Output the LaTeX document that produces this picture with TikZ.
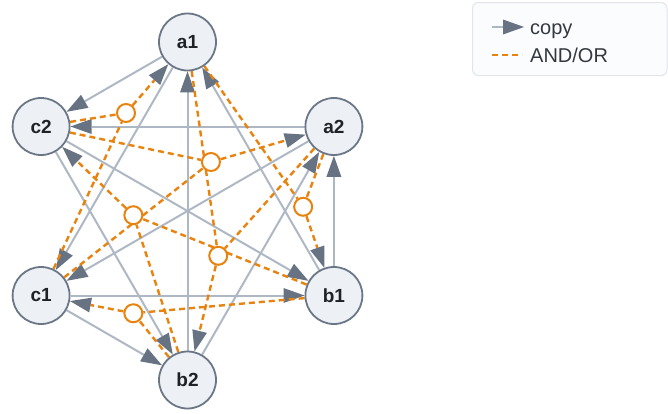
\documentclass[tikz,border=0pt]{standalone}
\usepackage{fontspec}
\setmainfont{Liberation Sans}
\usetikzlibrary{arrows.meta,calc}

\definecolor{edgegray}{HTML}{AEB8C4}
\definecolor{tipgray}{HTML}{677383}
\definecolor{nodefill}{HTML}{EDF1F6}
\definecolor{nodeline}{HTML}{6B7786}
\definecolor{andor}{HTML}{E8830F}
\definecolor{legline}{HTML}{E1E5EA}
\definecolor{legfill}{HTML}{FBFCFD}
\definecolor{labeltext}{HTML}{1F2328}
\definecolor{legtext}{HTML}{333840}

\pgfdeclarelayer{copylayer}
\pgfdeclarelayer{andorlayer}
\pgfsetlayers{copylayer,andorlayer,main}

\begin{document}
\begin{tikzpicture}[x=1pt,y=-1pt,
  state/.style={circle, draw=nodeline, line width=1.8pt, fill=nodefill,
    minimum size=57pt, inner sep=0pt,
    font=\bfseries\fontsize{19}{19}\selectfont, text=labeltext},
  hub/.style={circle, draw=andor, line width=2pt, fill=white,
    minimum size=18pt, inner sep=0pt},
  gtip/.style={-{Triangle[length=21pt,width=15pt,line width=0pt,color=tipgray]}},
  copyedge/.style={draw=edgegray, line width=2pt, gtip},
  andoredge/.style={draw=andor, line width=2.4pt, dash pattern=on 6pt off 4pt},
  andorarrow/.style={andoredge, gtip},
  legtxt/.style={anchor=base west, inner sep=0pt, text=legtext,
    font=\fontsize{20}{20}\selectfont},
]
\useasboundingbox (0,0) rectangle (668,413);

% legend
\draw[draw=legline, fill=legfill, line width=1pt, rounded corners=6pt]
  (472.5,2.5) rectangle (667,75.5);
\coordinate (lcs) at (492,27);
\coordinate (lce) at (524,27);
\coordinate (las) at (492,55);
\coordinate (lae) at (522,55);
\draw[copyedge] (lcs) -- (lce);
\draw[andoredge] (las) -- (lae);
\node[legtxt] (lcopy) at (530,34) {copy};
\node[legtxt] (landor) at (530,62) {AND/OR};

% state nodes on a hexagon
\node[state] (a1) at (187.5,42)    {a1};
\node[state] (a2) at (333.9,126.5) {a2};
\node[state] (b1) at (333.9,295.5) {b1};
\node[state] (b2) at (187.5,380)   {b2};
\node[state] (c1) at (41.1,295.5)  {c1};
\node[state] (c2) at (41.1,126.5)  {c2};

% copy edges
\begin{pgfonlayer}{copylayer}
\draw[copyedge] (a1) -- (c1);
\draw[copyedge] (a1) -- (c2);
\draw[copyedge] (a2) -- (c1);
\draw[copyedge] (a2) -- (c2);
\draw[copyedge] (b1) -- (a1);
\draw[copyedge] (b1) -- (a2);
\draw[copyedge] (b2) -- (a1);
\draw[copyedge] (b2) -- (a2);
\draw[copyedge] (c1) -- (b1);
\draw[copyedge] (c1) -- (b2);
\draw[copyedge] (c2) -- (b1);
\draw[copyedge] (c2) -- (b2);
\end{pgfonlayer}

% AND/OR junctions
\coordinate (mc) at ($(c1)!0.5!(c2)$);
\coordinate (ma) at ($(a1)!0.5!(a2)$);
\coordinate (mb) at ($(b1)!0.5!(b2)$);
\node[hub] (h1) at ($(mc)!0.58!(a1)$) {};
\node[hub] (h2) at ($(mc)!0.58!(a2)$) {};
\node[hub] (h3) at ($(mb)!0.58!(c2)$) {};
\node[hub] (h4) at ($(ma)!0.58!(b1)$) {};
\node[hub] (h5) at ($(ma)!0.58!(b2)$) {};
\node[hub] (h6) at ($(mb)!0.58!(c1)$) {};

\begin{pgfonlayer}{andorlayer}
\draw[andoredge] (c1) -- (h1);
\draw[andoredge] (c2) -- (h1);
\draw[andorarrow] (h1) -- (a1);

\draw[andoredge] (c1) -- (h2);
\draw[andoredge] (c2) -- (h2);
\draw[andorarrow] (h2) -- (a2);

\draw[andoredge] (b1) -- (h3);
\draw[andoredge] (b2) -- (h3);
\draw[andorarrow] (h3) -- (c2);

\draw[andoredge] (a1) -- (h4);
\draw[andoredge] (a2) -- (h4);
\draw[andorarrow] (h4) -- (b1);

\draw[andoredge] (a1) -- (h5);
\draw[andoredge] (a2) -- (h5);
\draw[andorarrow] (h5) -- (b2);

\draw[andoredge] (b1) -- (h6);
\draw[andoredge] (b2) -- (h6);
\draw[andorarrow] (h6) -- (c1);
\end{pgfonlayer}
\end{tikzpicture}
\end{document}
